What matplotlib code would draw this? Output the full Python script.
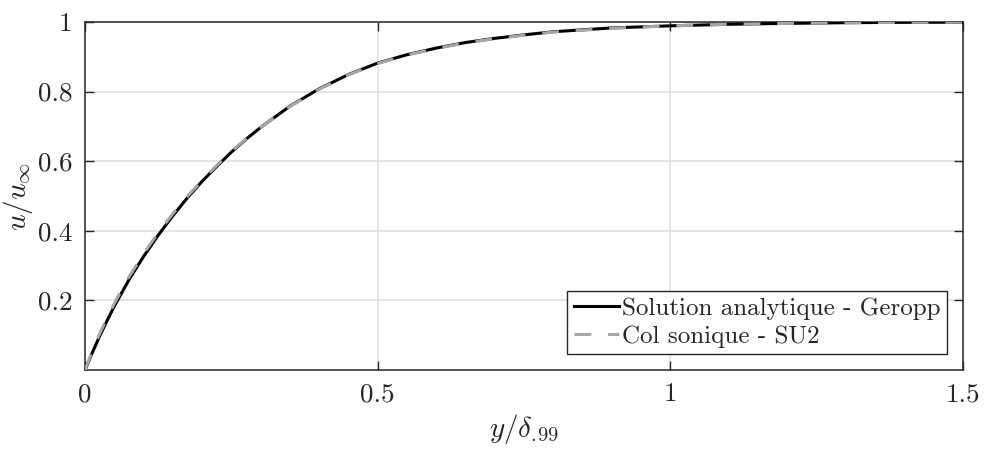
import matplotlib
matplotlib.use("Agg")
import matplotlib.pyplot as plt

plt.rcParams['font.family'] = 'serif'
plt.rcParams['font.serif'] = ['cmr10']
plt.rcParams['mathtext.fontset'] = 'cm'
plt.rcParams['axes.unicode_minus'] = False
plt.rcParams['axes.formatter.use_mathtext'] = True

# Data
y_geropp = [0, 0.0125, 0.025, 0.0375, 0.05, 0.075, 0.1, 0.125, 0.15, 0.175, 0.2, 0.225,
            0.25, 0.275, 0.3, 0.35, 0.4, 0.45, 0.5, 0.55, 0.6, 0.65, 0.7, 0.75,
            0.8, 0.9, 1.0, 1.1, 1.2, 1.3, 1.4, 1.5]
u_geropp = [0, 0.050, 0.097, 0.141, 0.183, 0.259, 0.326, 0.387, 0.443, 0.495, 0.542, 0.585,
            0.626, 0.663, 0.697, 0.758, 0.808, 0.849, 0.882, 0.906, 0.925, 0.941, 0.953, 0.963,
            0.972, 0.983, 0.989, 0.9935, 0.996, 0.998, 0.999, 0.9995]

y_su2 = [0, 0.0125, 0.025, 0.0375, 0.05, 0.075, 0.1, 0.125, 0.15, 0.175, 0.2, 0.225,
         0.25, 0.275, 0.3, 0.35, 0.4, 0.45, 0.5, 0.55, 0.6, 0.65, 0.7, 0.75,
         0.8, 0.9, 1.0, 1.1, 1.2, 1.3, 1.4, 1.5]
u_su2 = [0, 0.055, 0.104, 0.149, 0.191, 0.267, 0.334, 0.394, 0.449, 0.499, 0.545, 0.588,
         0.628, 0.664, 0.697, 0.757, 0.807, 0.848, 0.881, 0.905, 0.924, 0.940, 0.952, 0.962,
         0.971, 0.982, 0.989, 0.9935, 0.996, 0.998, 0.999, 0.9995]

xticks = [0, 0.5, 1, 1.5]
xtick_labels = ['0', '0.5', '1', '1.5']
yticks = [0.2, 0.4, 0.6, 0.8, 1]
ytick_labels = ['0.2', '0.4', '0.6', '0.8', '1']

label_geropp = 'Solution analytique - Geropp'
label_su2 = 'Col sonique - SU2'

fig = plt.figure(figsize=(9.85, 4.51), dpi=100)
ax = fig.add_axes([85/985, 1-370/451, 878/985, 348/451])

ax.plot(y_geropp, u_geropp, color='black', lw=2.2, label=label_geropp, zorder=3)
ax.plot(y_su2, u_su2, color='#a6a6a6', lw=2.2, linestyle=(0, (5.5, 5.5)),
        label=label_su2, zorder=4)

ax.set_xlim(0, 1.5)
ax.set_ylim(0, 1)
ax.set_xticks(xticks)
ax.set_xticklabels(xtick_labels)
ax.set_yticks(yticks)
ax.set_yticklabels(ytick_labels)

ax.grid(True, color='#dedede', lw=1.1)
ax.set_axisbelow(True)
for s in ax.spines.values():
    s.set_color('#262626')
    s.set_linewidth(1.1)
ax.tick_params(direction='in', length=6.5, width=1.0, color='#262626',
               labelsize=19.5, labelcolor='#262626', top=True, right=True, pad=9)

ax.set_xlabel(r'$y/\delta_{.\!99}$', fontsize=21, color='#262626', labelpad=4)
ax.set_ylabel(r'$u/u_\infty$', fontsize=21, color='#262626', labelpad=2)

leg = ax.legend(loc='lower right', bbox_to_anchor=(0.982, 0.046), borderaxespad=0,
                fontsize=18, handlelength=1.8, handletextpad=0.15, borderpad=0.25,
                labelspacing=0.2, fancybox=False, framealpha=1)
leg.get_frame().set_edgecolor('#262626')
leg.get_frame().set_linewidth(1.0)
for t in leg.get_texts():
    t.set_color('#262626')

fig.savefig('out.png', dpi=100)
